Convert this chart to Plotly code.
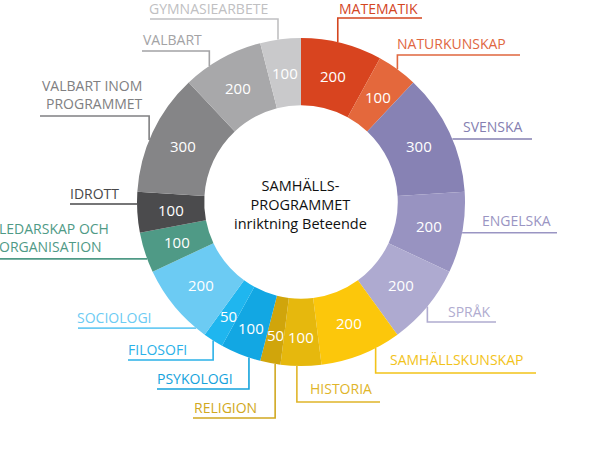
import math
import plotly.graph_objects as go

# ---- data ----
subjects = ["MATEMATIK", "NATURKUNSKAP", "SVENSKA", "ENGELSKA", "SPRÅK",
            "SAMHÄLLSKUNSKAP", "HISTORIA", "RELIGION", "PSYKOLOGI", "FILOSOFI",
            "SOCIOLOGI", "LEDARSKAP OCH<br>ORGANISATION", "IDROTT",
            "VALBART INOM<br>PROGRAMMET", "VALBART", "GYMNASIEARBETE"]
points = [200, 100, 300, 200, 200, 200, 100, 50, 100, 50, 200, 100, 100, 300, 200, 100]
center_title = "SAMHÄLLS-<br>PROGRAMMET<br>inriktning Beteende"

# ---- style ----
slice_colors = ["#d8441f", "#e4683c", "#8782b4", "#9893c1", "#aeaad0",
                "#fcc70b", "#e6b80d", "#d0a50b", "#12a7e3", "#1fb6ef",
                "#6ccbf3", "#4f9a86", "#4b4b4d", "#858587", "#a8a8aa", "#c9c9cb"]
label_colors = ["#d4461f", "#e0673f", "#857fb1", "#9a95c3", "#b0acd0",
                "#f2c31a", "#e0b52a", "#d1a820", "#15a3dc", "#2bb1e8",
                "#6ccbf3", "#4f9a86", "#48484a", "#808082", "#a3a3a5", "#c0c0c2"]

W, H = 607, 450
CX, CY, R = 301, 202, 164
HOLE = 0.59
FONT = "Open Sans"

# label layout: (kind, anchor fraction within slice, elbow y, far x, text x, text y, text anchor)
label_layout = [
    ("v", 0.45, 18, 422, 339, 8, "left"),
    ("v", 0.50, 55, 520, 397, 43, "left"),
    ("h", 0.56, None, 532, 463, 126, "left"),
    ("h", 0.50, None, 557, 482, 220, "left"),
    ("v", 0.50, 322, 496, 448, 311, "left"),
    ("v", 0.31, 373, 536, 390, 359, "left"),
    ("v", 0.60, 402, 380, 310, 388, "left"),
    ("v", 0.26, 418, 193, 194, 407, "left"),
    ("v", 0.285, 389, 157, 157, 378, "left"),
    ("v", 0.50, 360, 128, 128, 349, "left"),
    ("h", 0.13, None, 78, 77, 317, "left"),
    ("h", 0.34, None, 0, -1, 238, "left"),
    ("h", 0.70, None, 70, 70, 193, "left"),
    ("v", 0.43, 116, 40, 143, 94.5, "right"),
    ("v", 0.32, 51, 142, 143, 39, "left"),
    ("v", 0.44, 19, 150, 149, 8.5, "left"),
]


def px(x):
    return x / W


def py(y):
    return 1 - y / H


fig = go.Figure()
fig.add_trace(go.Pie(
    labels=subjects,
    values=points,
    textinfo="none",
    sort=False,
    direction="clockwise",
    rotation=0,
    hole=HOLE,
    marker=dict(colors=slice_colors, line=dict(width=0)),
    hoverinfo="skip",
    showlegend=False,
    domain=dict(x=[px(CX - R), px(CX + R)], y=[py(CY + R), py(CY - R)]),
))

total = sum(points)
r_mid = R * (1 + HOLE) / 2
cum = 0
shapes = []
annotations = []
for name, val, col, lay in zip(subjects, points, label_colors, label_layout):
    kind, frac, ey, fx, tx, ty, anchor = lay
    # value label at the middle of the slice
    mid = math.radians((cum + val / 2) / total * 360)
    rr = r_mid + (5 if val <= 100 and 150 < math.degrees(mid) < 230 else 0)
    annotations.append(dict(text=str(val), x=px(CX + rr * math.sin(mid)),
                            y=py(CY - rr * math.cos(mid)), xref="paper", yref="paper",
                            xanchor="center", yanchor="middle", showarrow=False,
                            borderpad=0, font=dict(family=FONT, size=15, color="white")))
    # leader line
    ang = math.radians((cum + frac * val) / total * 360)
    cum += val
    ax = CX + R * math.sin(ang)
    ay = CY - R * math.cos(ang)
    if kind == "v":
        path = f"M {px(ax)},{py(ay)} L {px(ax)},{py(ey)} L {px(fx)},{py(ey)}"
    else:
        path = f"M {px(ax)},{py(ay)} L {px(fx)},{py(ay)}"
    shapes.append(dict(type="path", xref="paper", yref="paper", path=path,
                       line=dict(color=col, width=1.6)))
    annotations.append(dict(text=name, x=px(tx), y=py(ty), xref="paper", yref="paper",
                            xanchor=anchor, yanchor="middle", align=anchor,
                            showarrow=False, borderpad=0, borderwidth=0,
                            font=dict(family=FONT, size=14, color=col)))

annotations.append(dict(text=center_title, x=px(CX - 1), y=py(204), xref="paper", yref="paper",
                        xanchor="center", yanchor="middle", align="center",
                        showarrow=False, borderpad=0,
                        font=dict(family=FONT, size=14.5, color="#111111")))

fig.update_layout(
    width=W, height=H, autosize=False,
    margin=dict(l=0, r=0, t=0, b=0),
    paper_bgcolor="white", plot_bgcolor="white",
    shapes=shapes, annotations=annotations,
)

fig.write_html("out.html", config={"displayModeBar": False},
               post_script="document.body.style.margin='0';")
